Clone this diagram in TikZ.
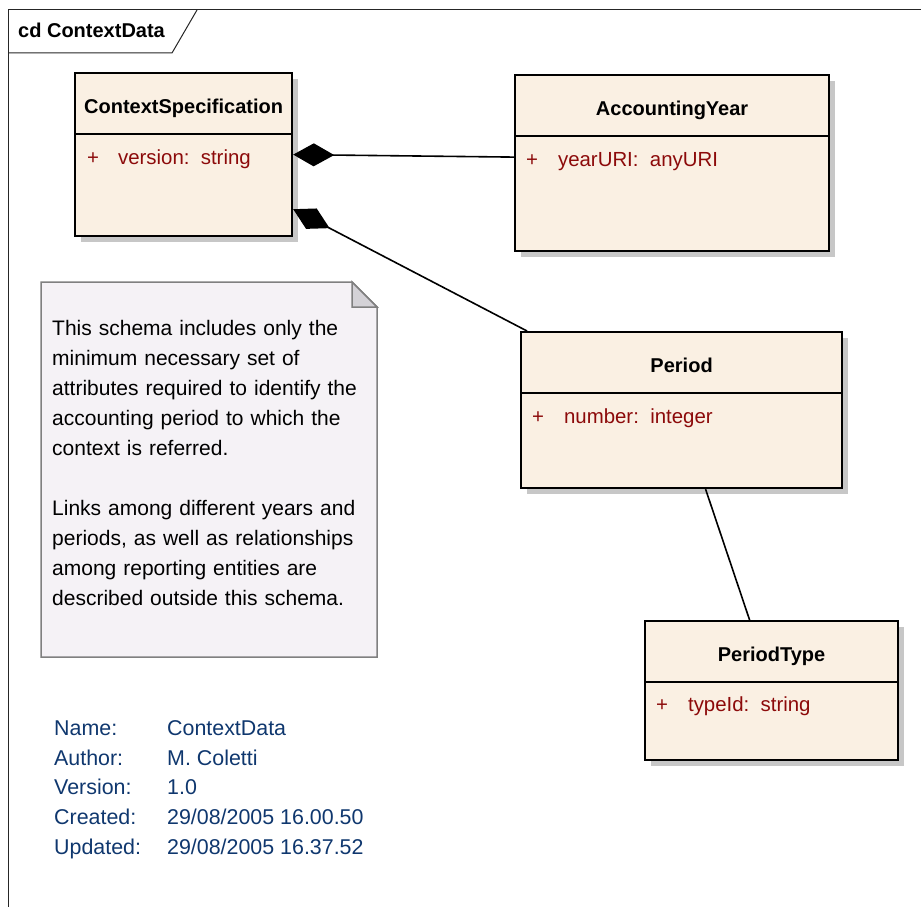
\documentclass[tikz,border=0pt]{standalone}
\usepackage{fontspec}
\setmainfont{Liberation Sans}
\usepackage{xcolor}
\usepackage{tikz}
\usetikzlibrary{arrows.meta, positioning, calc, shadows}
\definecolor{cls-fill}{RGB}{250, 240, 227}
\definecolor{attr-red}{RGB}{140, 10, 10}
\definecolor{note-fill}{RGB}{245, 242, 246}
\definecolor{note-fold}{RGB}{212, 210, 215}
\definecolor{meta-blue}{RGB}{15, 55, 110}

\begin{document}
\begin{tikzpicture}[x=1pt, y=-1pt,
        cls/.style={rectangle, draw=black, line width=2.2pt, fill=cls-fill,
                    anchor=north west, inner sep=0pt,
                    drop shadow={shadow xshift=6pt, shadow yshift=-6pt,
                                 fill=black!22, opacity=1}},
        divider/.style={line width=2pt},
        ttl/.style={anchor=base, inner sep=0pt, font=\fontsize{20}{24}\selectfont\bfseries},
        attr/.style={anchor=base west, inner sep=0pt, text=attr-red,
                     font=\fontsize{20.4}{24}\selectfont},
        meta/.style={anchor=base west, inner sep=0pt, text=meta-blue,
                     font=\fontsize{21.4}{24}\selectfont},
        comp/.style={{Diamond[length=41pt, width=23pt]}-, line width=1.6pt},
        assoc/.style={line width=1.6pt}
      ]
        \useasboundingbox (0,0) rectangle (921,907);
        % frame
        \draw[line width=1pt, black!85] (8,907) -- (8,10) -- (921,10);
        \draw[line width=1pt, black!85] (8,53) -- (172,53) -- (197,10);
        \node[anchor=base west, inner sep=0pt, font=\fontsize{20}{24}\selectfont\bfseries]
              (frame) at (18,37.7) {cd ContextData};

        % classes
        \node[cls, minimum width=217pt, minimum height=163pt] (cs) at (74,72) {};
        \draw[divider] ([yshift=-62pt]cs.north west) -- ([yshift=-62pt]cs.north east);
        \node[ttl] (cs-t) at ([yshift=-41pt]cs.north) {ContextSpecification};
        \node[attr] (cs-a) at ([xshift=13pt, yshift=-92pt]cs.north west)
              {+\hspace{19pt}version:\ \ string};

        \node[cls, minimum width=314pt, minimum height=176pt] (ay) at (514,74) {};
        \draw[divider] ([yshift=-62pt]ay.north west) -- ([yshift=-62pt]ay.north east);
        \node[ttl] (ay-t) at ([yshift=-41pt]ay.north) {AccountingYear};
        \node[attr] (ay-a) at ([xshift=12pt, yshift=-92pt]ay.north west)
              {+\hspace{20pt}yearURI:\ \ anyURI};

        \node[cls, minimum width=321pt, minimum height=156pt] (pe) at (520,331) {};
        \draw[divider] ([yshift=-62pt]pe.north west) -- ([yshift=-62pt]pe.north east);
        \node[ttl] (pe-t) at ([yshift=-41pt]pe.north) {Period};
        \node[attr] (pe-a) at ([xshift=12pt, yshift=-92pt]pe.north west)
              {+\hspace{20pt}number:\ \ integer};

        \node[cls, minimum width=253pt, minimum height=139pt] (pt) at (644,620) {};
        \draw[divider] ([yshift=-62pt]pt.north west) -- ([yshift=-62pt]pt.north east);
        \node[ttl] (pt-t) at ([yshift=-41pt]pt.north) {PeriodType};
        \node[attr] (pt-a) at ([xshift=12pt, yshift=-91pt]pt.north west)
              {+\hspace{20pt}typeId:\ \ string};

        % connectors
        \draw[comp] (cs.east) -- ([yshift=6pt]ay.west);
        \draw[comp] ([yshift=28pt]cs.south east) -- ([xshift=7pt]pe.north west);
        \draw[assoc] ([xshift=24pt]pe.south) -- ([xshift=-22pt]pt.north);

        % note
        \draw[line width=1.5pt, draw=black!50, fill=note-fill]
              (41,282) -- (352,282) -- (377,307) -- (377,657) -- (41,657) -- cycle;
        \draw[line width=1.5pt, draw=black!50, fill=note-fold]
              (352,282) -- (352,307) -- (377,307) -- cycle;
        \node[anchor=north west, inner sep=0pt, text width=324pt, align=left,
              font=\fontsize{21}{30}\selectfont] (note) at (52,320.5)
              {This schema includes only the\\
               minimum necessary set of\\
               attributes required to identify the\\
               accounting period to which the\\
               context is referred.\\[30pt]
               Links among different years and\\
               periods, as well as relationships\\
               among reporting entities are\\
               described outside this schema.};

        % diagram info
        \node[meta] (name-l) at (54,735) {Name:};
        \node[meta] (name-v) at (167,735) {ContextData};
        \node[meta] (auth-l) at (54,765) {Author:};
        \node[meta] (auth-v) at (167,765) {M. Coletti};
        \node[meta] (vers-l) at (54,794) {Version:};
        \node[meta] (vers-v) at (167,794) {1.0};
        \node[meta] (crea-l) at (54,824) {Created:};
        \node[meta] (crea-v) at (167,824) {29/08/2005 16.00.50};
        \node[meta] (updt-l) at (54,854) {Updated:};
        \node[meta] (updt-v) at (167,854) {29/08/2005 16.37.52};
      \end{tikzpicture}
\end{document}
